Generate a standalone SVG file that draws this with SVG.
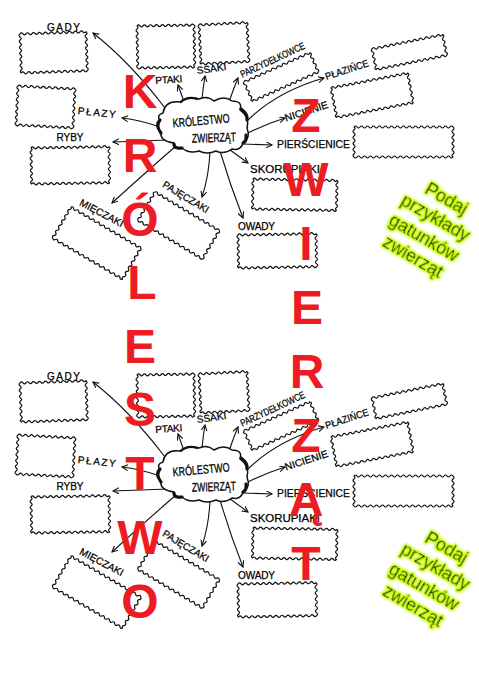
<svg xmlns="http://www.w3.org/2000/svg" xmlns:xlink="http://www.w3.org/1999/xlink" width="479" height="679" viewBox="0 0 479 679">
<style>
.wbox{fill:none;stroke:#111;stroke-width:1.2;stroke-linejoin:round}
.lbl{font-family:"Liberation Sans",Arial,sans-serif;font-size:10px;fill:#000;stroke:#000;stroke-width:0.25;text-anchor:middle}
.ctx{font-family:"Liberation Sans",Arial,sans-serif;font-size:12.5px;fill:#000;stroke:#000;stroke-width:0.3;text-anchor:middle}
.conn{fill:none;stroke:#111;stroke-width:1.1;marker-end:url(#arr)}
.cloud{fill:#fff;stroke:#111;stroke-width:1.5}
.thick{fill:none;stroke:#111;stroke-width:3.2;stroke-linecap:round}
.big{font-family:"Liberation Sans",Arial,sans-serif;font-weight:bold;font-size:48px;fill:#ED1C24;text-anchor:middle}
.hint{font-family:"Liberation Sans",Arial,sans-serif;font-size:18px;fill:#1a1a1a;text-anchor:middle}
</style>
<defs>
<marker id="arr" markerWidth="9" markerHeight="9" refX="6" refY="3" orient="auto" markerUnits="userSpaceOnUse"><path d="M0,0 L6,3 L0,6" fill="none" stroke="#111" stroke-width="1.1"/></marker>
<filter id="glow" x="-20%" y="-40%" width="140%" height="180%">
<feMorphology in="SourceAlpha" operator="dilate" radius="1.2" result="d"/>
<feGaussianBlur in="d" stdDeviation="1" result="b"/>
<feFlood flood-color="#c8ff00"/>
<feComposite in2="b" operator="in" result="g"/>
<feMerge><feMergeNode in="g"/><feMergeNode in="g"/><feMergeNode in="SourceGraphic"/></feMerge>
</filter>
<path id="w-gady" class="wbox" d="M0,0q1.5,-2 3,0t3,0t3,0t3,0t3,0t3,0 t3,0t3,0t3,0t3,0t3,0 t3,0t3,0t3,0t3,0t3,0 t3,0t3,0t3,0t3,0t3,0 t3,0 q2,1.5 0,3t0,3t0,3t0,3t0,3t0,3 t0,3t0,3t0,3t0,3t0,3 t0,3t0,3 q-1.5,2 -3,0t-3,0t-3,0t-3,0t-3,0t-3,0 t-3,0t-3,0t-3,0t-3,0t-3,0 t-3,0t-3,0t-3,0t-3,0t-3,0 t-3,0t-3,0t-3,0t-3,0t-3,0 t-3,0 q-2,-1.5 0,-3t0,-3t0,-3t0,-3t0,-3t0,-3 t0,-3t0,-3t0,-3t0,-3t0,-3 t0,-3t0,-3z"/>
<path id="w-ptaki" class="wbox" d="M0,0q1.5,-2 3,0t3,0t3,0t3,0t3,0t3,0 t3,0t3,0t3,0t3,0t3,0 t3,0t3,0t3,0t3,0t3,0 t3,0t3,0t3,0 q2,1.5 0,3t0,3t0,3t0,3t0,3t0,3 t0,3t0,3t0,3t0,3t0,3 t0,3t0,3t0,3 q-1.5,2 -3,0t-3,0t-3,0t-3,0t-3,0t-3,0 t-3,0t-3,0t-3,0t-3,0t-3,0 t-3,0t-3,0t-3,0t-3,0t-3,0 t-3,0t-3,0t-3,0 q-2,-1.5 0,-3t0,-3t0,-3t0,-3t0,-3t0,-3 t0,-3t0,-3t0,-3t0,-3t0,-3 t0,-3t0,-3t0,-3z"/>
<path id="w-ssaki" class="wbox" d="M0,0q1.5,-2 3,0t3,0t3,0t3,0t3,0t3,0 t3,0t3,0t3,0t3,0t3,0 t3,0t3,0t3,0t3,0t3,0 q2,1.5 0,3t0,3t0,3t0,3t0,3t0,3 t0,3t0,3t0,3t0,3t0,3 t0,3t0,3 q-1.5,2 -3,0t-3,0t-3,0t-3,0t-3,0t-3,0 t-3,0t-3,0t-3,0t-3,0t-3,0 t-3,0t-3,0t-3,0t-3,0t-3,0 q-2,-1.5 0,-3t0,-3t0,-3t0,-3t0,-3t0,-3 t0,-3t0,-3t0,-3t0,-3t0,-3 t0,-3t0,-3z"/>
<path id="w-parzy" class="wbox" d="M0,0q1.5,-2 3,0t3,0t3,0t3,0t3,0t3,0 t3,0t3,0t3,0t3,0t3,0 t3,0t3,0t3,0t3,0t3,0 t3,0t3,0t3,0t3,0t3,0 t3,0t3,0t3,0 q2,1.5 0,3t0,3t0,3t0,3t0,3t0,3 t0,3 q-1.5,2 -3,0t-3,0t-3,0t-3,0t-3,0t-3,0 t-3,0t-3,0t-3,0t-3,0t-3,0 t-3,0t-3,0t-3,0t-3,0t-3,0 t-3,0t-3,0t-3,0t-3,0t-3,0 t-3,0t-3,0t-3,0 q-2,-1.5 0,-3t0,-3t0,-3t0,-3t0,-3t0,-3 t0,-3z"/>
<path id="w-nic" class="wbox" d="M0,0q1.5,-2 3,0t3,0t3,0t3,0t3,0t3,0 t3,0t3,0t3,0t3,0t3,0 t3,0t3,0t3,0t3,0t3,0 t3,0t3,0t3,0t3,0t3,0 t3,0t3,0t3,0t3,0t3,0 q2,1.5 0,3t0,3t0,3t0,3t0,3t0,3 t0,3t0,3t0,3t0,3 q-1.5,2 -3,0t-3,0t-3,0t-3,0t-3,0t-3,0 t-3,0t-3,0t-3,0t-3,0t-3,0 t-3,0t-3,0t-3,0t-3,0t-3,0 t-3,0t-3,0t-3,0t-3,0t-3,0 t-3,0t-3,0t-3,0t-3,0t-3,0 q-2,-1.5 0,-3t0,-3t0,-3t0,-3t0,-3t0,-3 t0,-3t0,-3t0,-3t0,-3z"/>
<path id="w-pier" class="wbox" d="M0,0q1.5,-2 3,0t3,0t3,0t3,0t3,0t3,0 t3,0t3,0t3,0t3,0t3,0 t3,0t3,0t3,0t3,0t3,0 t3,0t3,0t3,0t3,0t3,0 t3,0t3,0t3,0t3,0t3,0 t3,0t3,0t3,0t3,0t3,0 t3,0t3,0 q2,1.5 0,3t0,3t0,3t0,3t0,3t0,3 t0,3t0,3t0,3t0,3 q-1.5,2 -3,0t-3,0t-3,0t-3,0t-3,0t-3,0 t-3,0t-3,0t-3,0t-3,0t-3,0 t-3,0t-3,0t-3,0t-3,0t-3,0 t-3,0t-3,0t-3,0t-3,0t-3,0 t-3,0t-3,0t-3,0t-3,0t-3,0 t-3,0t-3,0t-3,0t-3,0t-3,0 t-3,0t-3,0 q-2,-1.5 0,-3t0,-3t0,-3t0,-3t0,-3t0,-3 t0,-3t0,-3t0,-3t0,-3z"/>
<path id="w-skor" class="wbox" d="M0,0q1.5,-2 3,0t3,0t3,0t3,0t3,0t3,0 t3,0t3,0t3,0t3,0t3,0 t3,0t3,0t3,0t3,0t3,0 t3,0t3,0t3,0t3,0t3,0 t3,0t3,0t3,0t3,0t3,0 t3,0t3,0 q2,1.5 0,3t0,3t0,3t0,3t0,3t0,3 t0,3t0,3t0,3t0,3 q-1.5,2 -3,0t-3,0t-3,0t-3,0t-3,0t-3,0 t-3,0t-3,0t-3,0t-3,0t-3,0 t-3,0t-3,0t-3,0t-3,0t-3,0 t-3,0t-3,0t-3,0t-3,0t-3,0 t-3,0t-3,0t-3,0t-3,0t-3,0 t-3,0t-3,0 q-2,-1.5 0,-3t0,-3t0,-3t0,-3t0,-3t0,-3 t0,-3t0,-3t0,-3t0,-3z"/>
<path id="w-owady" class="wbox" d="M0,0q1.5,-2 3,0t3,0t3,0t3,0t3,0t3,0 t3,0t3,0t3,0t3,0t3,0 t3,0t3,0t3,0t3,0t3,0 t3,0t3,0t3,0t3,0t3,0 t3,0t3,0t3,0t3,0t3,0 q2,1.5 0,3t0,3t0,3t0,3t0,3t0,3 t0,3t0,3t0,3t0,3t0,3 q-1.5,2 -3,0t-3,0t-3,0t-3,0t-3,0t-3,0 t-3,0t-3,0t-3,0t-3,0t-3,0 t-3,0t-3,0t-3,0t-3,0t-3,0 t-3,0t-3,0t-3,0t-3,0t-3,0 t-3,0t-3,0t-3,0t-3,0t-3,0 q-2,-1.5 0,-3t0,-3t0,-3t0,-3t0,-3t0,-3 t0,-3t0,-3t0,-3t0,-3t0,-3z"/>
<path id="w-paj" class="wbox" d="M0,0q1.5,-2 3,0t3,0t3,0t3,0t3,0t3,0 t3,0t3,0t3,0t3,0t3,0 t3,0t3,0t3,0t3,0t3,0 t3,0t3,0t3,0t3,0t3,0 t3,0t3,0t3,0t3,0 q2,1.5 0,3t0,3t0,3t0,3t0,3t0,3 t0,3t0,3t0,3t0,3t0,3 q-1.5,2 -3,0t-3,0t-3,0t-3,0t-3,0t-3,0 t-3,0t-3,0t-3,0t-3,0t-3,0 t-3,0t-3,0t-3,0t-3,0t-3,0 t-3,0t-3,0t-3,0t-3,0t-3,0 t-3,0t-3,0t-3,0t-3,0 q-2,-1.5 0,-3t0,-3t0,-3t0,-3t0,-3t0,-3 t0,-3t0,-3t0,-3t0,-3t0,-3z"/>
<path id="w-mie" class="wbox" d="M0,0q1.5,-2 3,0t3,0t3,0t3,0t3,0t3,0 t3,0t3,0t3,0t3,0t3,0 t3,0t3,0t3,0t3,0t3,0 t3,0t3,0t3,0t3,0t3,0 t3,0t3,0t3,0t3,0t3,0 t3,0 q2,1.5 0,3t0,3t0,3t0,3t0,3t0,3 t0,3t0,3t0,3t0,3t0,3 t0,3 q-1.5,2 -3,0t-3,0t-3,0t-3,0t-3,0t-3,0 t-3,0t-3,0t-3,0t-3,0t-3,0 t-3,0t-3,0t-3,0t-3,0t-3,0 t-3,0t-3,0t-3,0t-3,0t-3,0 t-3,0t-3,0t-3,0t-3,0t-3,0 t-3,0 q-2,-1.5 0,-3t0,-3t0,-3t0,-3t0,-3t0,-3 t0,-3t0,-3t0,-3t0,-3t0,-3 t0,-3z"/>
<path id="w-ryby" class="wbox" d="M0,0q1.5,-2 3,0t3,0t3,0t3,0t3,0t3,0 t3,0t3,0t3,0t3,0t3,0 t3,0t3,0t3,0t3,0t3,0 t3,0t3,0t3,0t3,0t3,0 t3,0t3,0t3,0t3,0t3,0 q2,1.5 0,3t0,3t0,3t0,3t0,3t0,3 t0,3t0,3t0,3t0,3t0,3 t0,3 q-1.5,2 -3,0t-3,0t-3,0t-3,0t-3,0t-3,0 t-3,0t-3,0t-3,0t-3,0t-3,0 t-3,0t-3,0t-3,0t-3,0t-3,0 t-3,0t-3,0t-3,0t-3,0t-3,0 t-3,0t-3,0t-3,0t-3,0t-3,0 q-2,-1.5 0,-3t0,-3t0,-3t0,-3t0,-3t0,-3 t0,-3t0,-3t0,-3t0,-3t0,-3 t0,-3z"/>
<path id="w-plazy" class="wbox" d="M0,0q1.5,-2 3,0t3,0t3,0t3,0t3,0t3,0 t3,0t3,0t3,0t3,0t3,0 t3,0t3,0t3,0t3,0t3,0 t3,0t3,0t3,0 q2,1.5 0,3t0,3t0,3t0,3t0,3t0,3 t0,3t0,3t0,3t0,3t0,3 t0,3t0,3 q-1.5,2 -3,0t-3,0t-3,0t-3,0t-3,0t-3,0 t-3,0t-3,0t-3,0t-3,0t-3,0 t-3,0t-3,0t-3,0t-3,0t-3,0 t-3,0t-3,0t-3,0 q-2,-1.5 0,-3t0,-3t0,-3t0,-3t0,-3t0,-3 t0,-3t0,-3t0,-3t0,-3t0,-3 t0,-3t0,-3z"/>
</defs>
<rect width="479" height="679" fill="#fff"/>

<g id="connectors">
<g id="connectors-top">
<path class="conn" d="M165,108 Q130,62 93,33"/>
<path class="conn" d="M160,127 Q140,120 122,118"/>
<path class="conn" d="M168,140 Q140,141 113,142"/>
<path class="conn" d="M176,146 Q146,172 112,203"/>
<path class="conn" d="M210,151 Q209,176 202,197"/>
<path class="conn" d="M220,151 Q230,185 243,218"/>
<path class="conn" d="M226,147 L248,163"/>
<path class="conn" d="M243,144 L272,145"/>
<path class="conn" d="M246,134 Q266,124 285,118"/>
<path class="conn" d="M245,123 Q275,92 324,78"/>
<path class="conn" d="M229,102 Q233,90 238,78"/>
<path class="conn" d="M202,99 Q203,88 205,76"/>
<path class="conn" d="M184,102 Q181,93 178,85"/>
</g>
<g id="connectors-bottom" transform="translate(0,349)">
<path class="conn" d="M165,108 Q130,62 93,33"/>
<path class="conn" d="M160,127 Q140,120 122,118"/>
<path class="conn" d="M168,140 Q140,141 113,142"/>
<path class="conn" d="M176,146 Q146,172 112,203"/>
<path class="conn" d="M210,151 Q209,176 202,197"/>
<path class="conn" d="M220,151 Q230,185 243,218"/>
<path class="conn" d="M226,147 L248,163"/>
<path class="conn" d="M243,144 L272,145"/>
<path class="conn" d="M246,134 Q266,124 285,118"/>
<path class="conn" d="M245,123 Q275,92 324,78"/>
<path class="conn" d="M229,102 Q233,90 238,78"/>
<path class="conn" d="M202,99 Q203,88 205,76"/>
<path class="conn" d="M184,102 Q181,93 178,85"/>
</g>
</g>

<g id="map-top">
<g id="center">
<path class="cloud" d="M163,113 Q165,100 180,102 Q188,95 199,99 Q207,95 214,101 Q224,95 232,101 Q243,101 240,110 Q250,117 247,128 Q251,138 243,143 Q241,151 232,149 Q224,155 216,151 Q207,155 199,151 Q189,154 182,148 Q172,150 174,143 Q160,141 161,133 Q154,124 160,121 Q156,115 163,113 Z"/>
<path class="thick" d="M161,133 Q155,125 160,120"/>
<path class="thick" d="M182,148 Q174,149 174,144"/>
<path class="thick" d="M241,109 Q248,114 247,120"/>
<path class="thick" d="M246,135 Q247,141 243,143"/>
<path class="thick" d="M181,102 Q188,96 197,99" style="stroke-width:2.2"/>
<text class="ctx" transform="translate(201.5,125) rotate(-5)" textLength="57" lengthAdjust="spacingAndGlyphs">KRÓLESTWO</text>
<text class="ctx" transform="translate(214,142) rotate(-2)" textLength="44" lengthAdjust="spacingAndGlyphs">ZWIERZĄT</text>
</g>
<g id="gady"><use href="#w-gady" transform="translate(20,34) rotate(-2)"/><text class="lbl" x="63.5" y="31" textLength="33">GADY</text></g>
<g id="ptaki"><use href="#w-ptaki" transform="translate(137,26) rotate(-1)"/><text class="lbl" transform="translate(169,83) rotate(-4)" textLength="27">PTAKI</text></g>
<g id="ssaki"><use href="#w-ssaki" transform="translate(199,25) rotate(-3)"/><text class="lbl" transform="translate(212,72) rotate(-8)" textLength="30">SSAKI</text></g>
<g id="parzydelkowce"><use href="#w-parzy" transform="translate(244,82) rotate(-24)"/><text class="lbl" transform="translate(274,63) rotate(-25)" textLength="70" lengthAdjust="spacingAndGlyphs">PARZYDEŁKOWCE</text></g>
<g id="plazince"><use href="#w-parzy" transform="translate(372,49) rotate(-11.5)"/><text class="lbl" transform="translate(348,73) rotate(-18)" textLength="45" lengthAdjust="spacingAndGlyphs">PŁAZIŃCE</text></g>
<g id="nicienie"><use href="#w-nic" transform="translate(331,88) rotate(-11)"/><text class="lbl" transform="translate(307.5,114.5) rotate(-18)" textLength="45" lengthAdjust="spacingAndGlyphs">NICIENIE</text></g>
<g id="pierscienice"><use href="#w-pier" transform="translate(354,127)"/><text class="lbl" x="313.5" y="148" textLength="73" lengthAdjust="spacingAndGlyphs">PIERŚCIENICE</text></g>
<g id="skorupiaki"><use href="#w-skor" transform="translate(253,179) rotate(1)"/><text class="lbl" x="285" y="173" textLength="70" lengthAdjust="spacingAndGlyphs">SKORUPIAKI</text></g>
<g id="owady"><use href="#w-owady" transform="translate(238,235) rotate(-1)"/><text class="lbl" x="256.5" y="230" textLength="37">OWADY</text></g>
<g id="pajeczaki"><use href="#w-paj" transform="translate(155,192) rotate(31)"/><text class="lbl" transform="translate(184,200) rotate(31)" textLength="52" lengthAdjust="spacingAndGlyphs">PAJĘCZAKI</text></g>
<g id="mieczaki"><use href="#w-mie" transform="translate(71,207) rotate(30.5)"/><text class="lbl" transform="translate(100,216) rotate(28)" textLength="48" lengthAdjust="spacingAndGlyphs">MIĘCZAKI</text></g>
<g id="ryby"><use href="#w-ryby" transform="translate(31,148) rotate(-1)"/><text class="lbl" x="70" y="141" textLength="27">RYBY</text></g>
<g id="plazy"><use href="#w-plazy" transform="translate(18,86) rotate(3)"/><text class="lbl" transform="translate(96.5,116) rotate(6)" textLength="38">PŁAZY</text></g>
<g id="hint" filter="url(#glow)" transform="translate(429,229) rotate(30)">
<text class="hint" x="0" y="-29">Podaj</text>
<text class="hint" x="0" y="-7">przykłady</text>
<text class="hint" x="0" y="16">gatunków</text>
<text class="hint" x="0" y="38">zwierząt</text>
</g>
</g>

<g id="map-bottom" transform="translate(0,349)">
<g id="center-2">
<path class="cloud" d="M163,113 Q165,100 180,102 Q188,95 199,99 Q207,95 214,101 Q224,95 232,101 Q243,101 240,110 Q250,117 247,128 Q251,138 243,143 Q241,151 232,149 Q224,155 216,151 Q207,155 199,151 Q189,154 182,148 Q172,150 174,143 Q160,141 161,133 Q154,124 160,121 Q156,115 163,113 Z"/>
<path class="thick" d="M161,133 Q155,125 160,120"/>
<path class="thick" d="M182,148 Q174,149 174,144"/>
<path class="thick" d="M241,109 Q248,114 247,120"/>
<path class="thick" d="M246,135 Q247,141 243,143"/>
<path class="thick" d="M181,102 Q188,96 197,99" style="stroke-width:2.2"/>
<text class="ctx" transform="translate(201.5,125) rotate(-5)" textLength="57" lengthAdjust="spacingAndGlyphs">KRÓLESTWO</text>
<text class="ctx" transform="translate(214,142) rotate(-2)" textLength="44" lengthAdjust="spacingAndGlyphs">ZWIERZĄT</text>
</g>
<g id="gady-2"><use href="#w-gady" transform="translate(20,34) rotate(-2)"/><text class="lbl" x="63.5" y="31" textLength="33">GADY</text></g>
<g id="ptaki-2"><use href="#w-ptaki" transform="translate(137,26) rotate(-1)"/><text class="lbl" transform="translate(169,83) rotate(-4)" textLength="27">PTAKI</text></g>
<g id="ssaki-2"><use href="#w-ssaki" transform="translate(199,25) rotate(-3)"/><text class="lbl" transform="translate(212,72) rotate(-8)" textLength="30">SSAKI</text></g>
<g id="parzydelkowce-2"><use href="#w-parzy" transform="translate(244,82) rotate(-24)"/><text class="lbl" transform="translate(274,63) rotate(-25)" textLength="70" lengthAdjust="spacingAndGlyphs">PARZYDEŁKOWCE</text></g>
<g id="plazince-2"><use href="#w-parzy" transform="translate(372,49) rotate(-11.5)"/><text class="lbl" transform="translate(348,73) rotate(-18)" textLength="45" lengthAdjust="spacingAndGlyphs">PŁAZIŃCE</text></g>
<g id="nicienie-2"><use href="#w-nic" transform="translate(331,88) rotate(-11)"/><text class="lbl" transform="translate(307.5,114.5) rotate(-18)" textLength="45" lengthAdjust="spacingAndGlyphs">NICIENIE</text></g>
<g id="pierscienice-2"><use href="#w-pier" transform="translate(354,127)"/><text class="lbl" x="313.5" y="148" textLength="73" lengthAdjust="spacingAndGlyphs">PIERŚCIENICE</text></g>
<g id="skorupiaki-2"><use href="#w-skor" transform="translate(253,179) rotate(1)"/><text class="lbl" x="285" y="173" textLength="70" lengthAdjust="spacingAndGlyphs">SKORUPIAKI</text></g>
<g id="owady-2"><use href="#w-owady" transform="translate(238,235) rotate(-1)"/><text class="lbl" x="256.5" y="230" textLength="37">OWADY</text></g>
<g id="pajeczaki-2"><use href="#w-paj" transform="translate(155,192) rotate(31)"/><text class="lbl" transform="translate(184,200) rotate(31)" textLength="52" lengthAdjust="spacingAndGlyphs">PAJĘCZAKI</text></g>
<g id="mieczaki-2"><use href="#w-mie" transform="translate(71,207) rotate(30.5)"/><text class="lbl" transform="translate(100,216) rotate(28)" textLength="48" lengthAdjust="spacingAndGlyphs">MIĘCZAKI</text></g>
<g id="ryby-2"><use href="#w-ryby" transform="translate(31,148) rotate(-1)"/><text class="lbl" x="70" y="141" textLength="27">RYBY</text></g>
<g id="plazy-2"><use href="#w-plazy" transform="translate(18,86) rotate(3)"/><text class="lbl" transform="translate(96.5,116) rotate(6)" textLength="38">PŁAZY</text></g>
<g id="hint-2" filter="url(#glow)" transform="translate(429,229) rotate(30)">
<text class="hint" x="0" y="-29">Podaj</text>
<text class="hint" x="0" y="-7">przykłady</text>
<text class="hint" x="0" y="16">gatunków</text>
<text class="hint" x="0" y="38">zwierząt</text>
</g>
</g>

<g id="title-left">
<text class="big" x="140" y="108">K</text>
<text class="big" x="140" y="172">R</text>
<text class="big" x="140" y="236">Ó</text>
<text class="big" x="142" y="299">L</text>
<text class="big" x="140" y="363">E</text>
<text class="big" x="140" y="426">S</text>
<text class="big" x="140" y="490">T</text>
<text class="big" x="140" y="554">W</text>
<text class="big" x="140" y="618">O</text>
</g>
<g id="title-right">
<text class="big" x="306" y="132">Z</text>
<text class="big" x="306" y="196">W</text>
<text class="big" x="306" y="260">I</text>
<text class="big" x="307" y="324">E</text>
<text class="big" x="307" y="388">R</text>
<text class="big" x="306" y="452">Z</text>
<text class="big" x="306" y="516">Ą</text>
<text class="big" x="306" y="580">T</text>
</g>
</svg>
